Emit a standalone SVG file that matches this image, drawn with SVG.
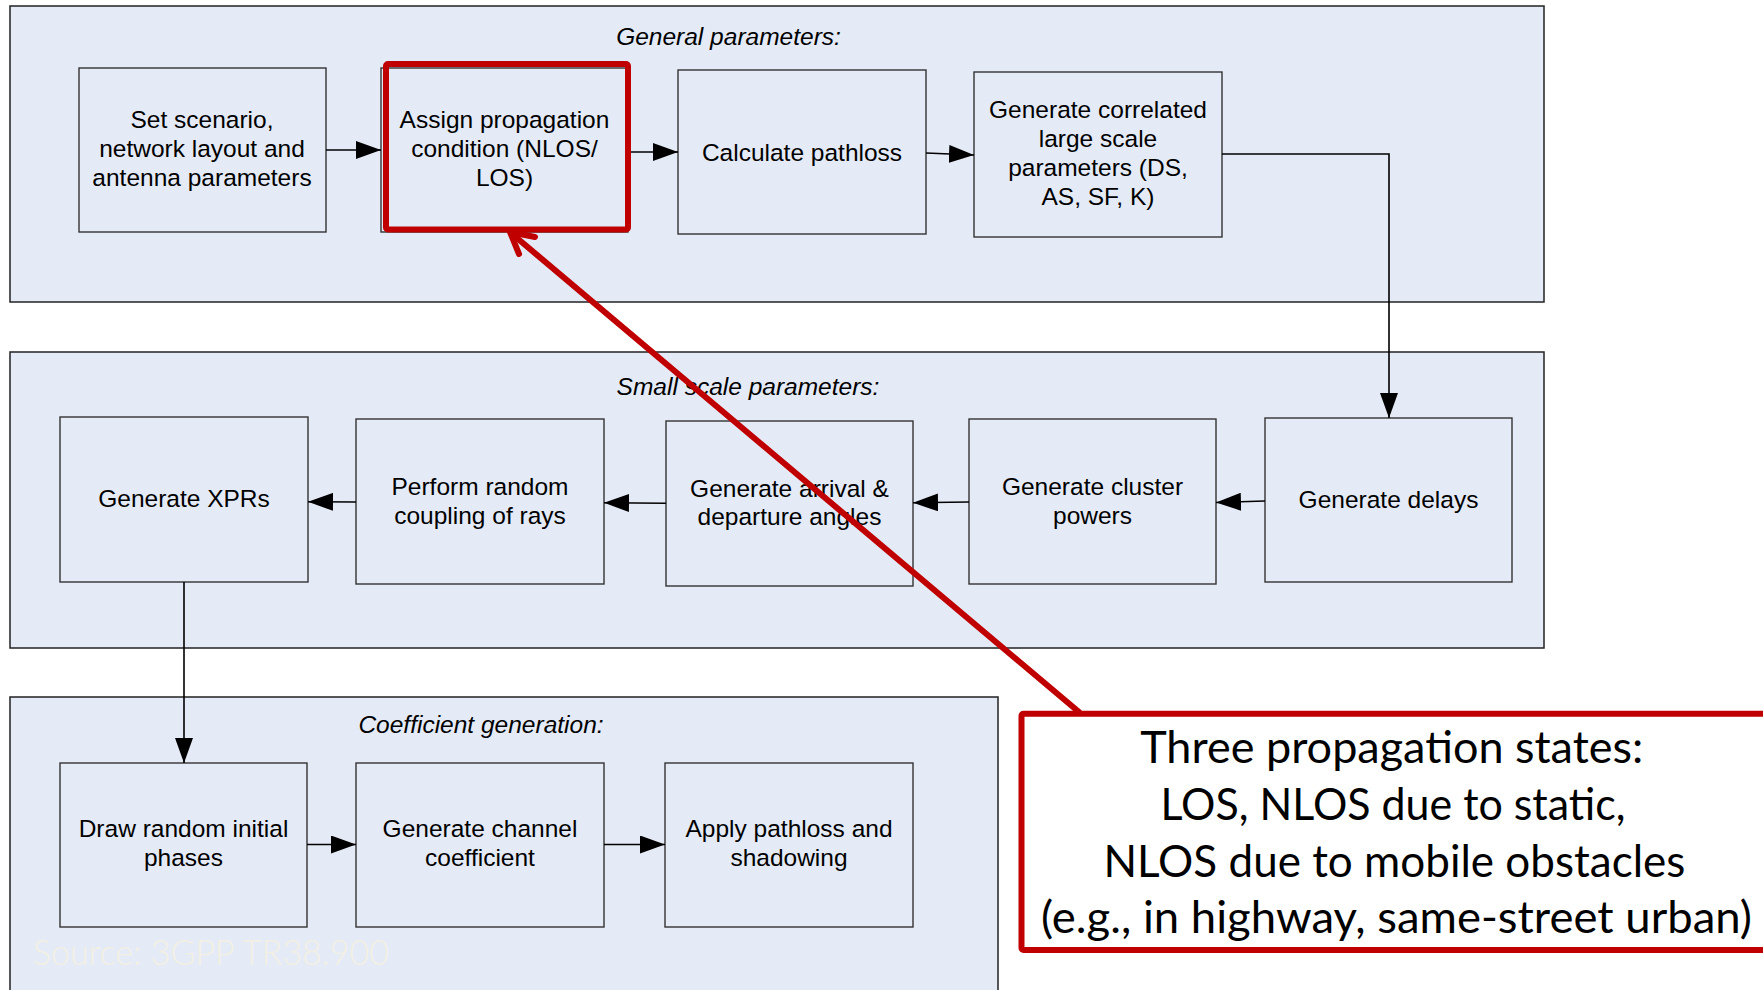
<svg xmlns="http://www.w3.org/2000/svg" width="1763" height="990" viewBox="0 0 1763 990">
  <defs>
    <marker id="arrow" markerUnits="userSpaceOnUse" markerWidth="25" markerHeight="18" refX="25" refY="9" orient="auto">
      <path d="M0,0 L25,9 L0,18 z" fill="#000"/>
    </marker>
    <style>
      .panel { fill: #e5ebf6; stroke: #222; stroke-width: 1.5; }
      .box { fill: #e5ebf6; stroke: #333; stroke-width: 1.4; }
      .t { font-family: "Liberation Sans", Arial, sans-serif; font-size: 24.5px; fill: #000; text-anchor: middle; }
      .title { font-family: "Liberation Sans", Arial, sans-serif; font-size: 24.5px; font-style: italic; fill: #000; text-anchor: middle; }
      .conn { fill: none; stroke: #000; stroke-width: 1.6; marker-end: url(#arrow); }
      .red { fill: none; stroke: #c00000; stroke-width: 6; stroke-linecap: round; stroke-linejoin: round; }
      .callout { font-family: Lato, "Open Sans", sans-serif; font-size: 44px; fill: #000; text-anchor: middle; }
      .src { font-family: Lato, "Open Sans", sans-serif; font-weight: 300; font-size: 35px; fill: #f3f0e3; }
    </style>
  </defs>

  <rect width="1763" height="990" fill="#fff"/>

  <!-- stage panels -->
  <g id="panel-general">
    <rect class="panel" x="10" y="6" width="1534" height="296"/>
    <text class="title" x="728.5" y="45">General parameters:</text>
  </g>
  <g id="panel-small-scale">
    <rect class="panel" x="10" y="352" width="1534" height="296"/>
    <text class="title" x="748" y="395">Small scale parameters:</text>
  </g>
  <g id="panel-coefficient">
    <rect class="panel" x="10" y="697" width="988" height="310"/>
    <text class="title" x="481" y="733">Coefficient generation:</text>
    <text class="src" x="33" y="965" textLength="356" lengthAdjust="spacingAndGlyphs">Source: 3GPP TR38.900</text>
  </g>

  <!-- general parameters -->
  <g id="node-scenario">
    <rect class="box" x="79" y="68" width="247" height="164"/>
    <text class="t" x="202" y="128">Set scenario,</text>
    <text class="t" x="202" y="157">network layout and</text>
    <text class="t" x="202" y="186">antenna parameters</text>
  </g>
  <g id="node-propagation">
    <rect class="box" x="381" y="68" width="247" height="164"/>
    <text class="t" x="504.5" y="128">Assign propagation</text>
    <text class="t" x="504.5" y="157">condition (NLOS/</text>
    <text class="t" x="504.5" y="186">LOS)</text>
  </g>
  <g id="node-pathloss">
    <rect class="box" x="678" y="70" width="248" height="164"/>
    <text class="t" x="802" y="160.5">Calculate pathloss</text>
  </g>
  <g id="node-lsp">
    <rect class="box" x="974" y="72" width="248" height="165"/>
    <text class="t" x="1098" y="117.5">Generate correlated</text>
    <text class="t" x="1098" y="146.5">large scale</text>
    <text class="t" x="1098" y="176">parameters (DS,</text>
    <text class="t" x="1098" y="205">AS, SF, K)</text>
  </g>

  <!-- small scale parameters -->
  <g id="node-delays">
    <rect class="box" x="1265" y="418" width="247" height="164"/>
    <text class="t" x="1388.5" y="507.5">Generate delays</text>
  </g>
  <g id="node-cluster">
    <rect class="box" x="969" y="419" width="247" height="165"/>
    <text class="t" x="1092.5" y="495">Generate cluster</text>
    <text class="t" x="1092.5" y="524">powers</text>
  </g>
  <g id="node-angles">
    <rect class="box" x="666" y="421" width="247" height="165"/>
    <text class="t" x="789.5" y="497">Generate arrival &amp;</text>
    <text class="t" x="789.5" y="525">departure angles</text>
  </g>
  <g id="node-coupling">
    <rect class="box" x="356" y="419" width="248" height="165"/>
    <text class="t" x="480" y="495">Perform random</text>
    <text class="t" x="480" y="523.5">coupling of rays</text>
  </g>
  <g id="node-xpr">
    <rect class="box" x="60" y="417" width="248" height="165"/>
    <text class="t" x="184" y="507">Generate XPRs</text>
  </g>

  <!-- coefficient generation -->
  <g id="node-phases">
    <rect class="box" x="60" y="763" width="247" height="164"/>
    <text class="t" x="183.5" y="837">Draw random initial</text>
    <text class="t" x="183.5" y="865.5">phases</text>
  </g>
  <g id="node-channel">
    <rect class="box" x="356" y="763" width="248" height="164"/>
    <text class="t" x="480" y="837">Generate channel</text>
    <text class="t" x="480" y="865.5">coefficient</text>
  </g>
  <g id="node-apply">
    <rect class="box" x="665" y="763" width="248" height="164"/>
    <text class="t" x="789" y="837">Apply pathloss and</text>
    <text class="t" x="789" y="865.5">shadowing</text>
  </g>

  <!-- flow connectors -->
  <g id="connectors">
    <path class="conn" d="M326,150 L381,150"/>
    <path class="conn" d="M628,152 L678,152"/>
    <path class="conn" d="M926,153 L974,155"/>
    <path class="conn" d="M1222,154 L1389,154 L1389,418"/>
    <path class="conn" d="M1265,501 L1216,502.5"/>
    <path class="conn" d="M969,502 L913,502.7"/>
    <path class="conn" d="M666,503.3 L604,502.8"/>
    <path class="conn" d="M356,502 L308,501.7"/>
    <path class="conn" d="M184,582 L184,763"/>
    <path class="conn" d="M307,844.5 L356,844.5"/>
    <path class="conn" d="M604,844.5 L665,844.5"/>
  </g>

  <!-- highlight and annotation -->
  <g id="highlight">
    <rect class="red" x="386" y="64" width="242" height="165.5" rx="2"/>
  </g>
  <g id="annotation-arrow">
    <path class="red" d="M1079,712 L511,233"/>
    <path class="red" d="M519,254 L510,232 L535,237"/>
  </g>
  <g id="annotation">
    <rect x="1021.5" y="713.7" width="800" height="236.3" rx="2" fill="#fff" stroke="#c00000" stroke-width="6"/>
    <text class="callout" x="1391.7" y="762.7" textLength="503" lengthAdjust="spacingAndGlyphs">Three propagation states:</text>
    <text class="callout" x="1393" y="820" textLength="465" lengthAdjust="spacingAndGlyphs">LOS, NLOS due to static,</text>
    <text class="callout" x="1394.4" y="876.7" textLength="582" lengthAdjust="spacingAndGlyphs">NLOS due to mobile  obstacles</text>
    <text class="callout" x="1396.5" y="933.3" textLength="711" lengthAdjust="spacingAndGlyphs">(e.g., in highway, same-street urban)</text>
  </g>
</svg>
